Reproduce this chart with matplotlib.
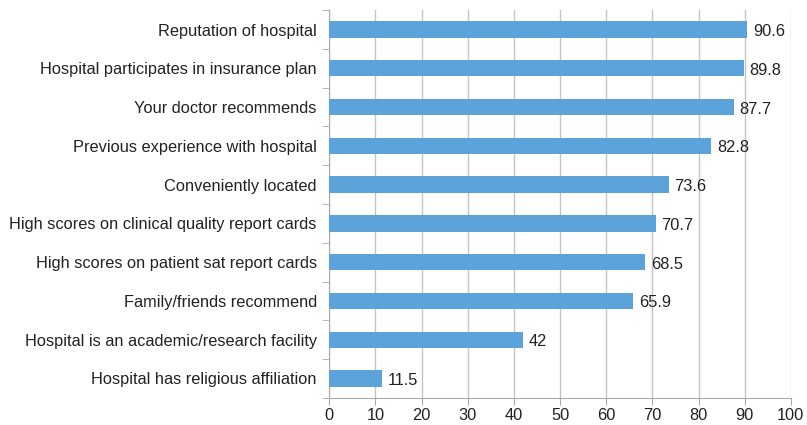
import numpy as np
import matplotlib.pyplot as plt

plt.rcParams['font.family'] = ['Liberation Sans', 'DejaVu Sans']

# Dados (de cima para baixo)
fatores = ["Reputation of hospital",
           "Hospital participates in insurance plan",
           "Your doctor recommends",
           "Previous experience with hospital",
           "Conveniently located",
           "High scores on clinical quality report cards",
           "High scores on patient sat report cards",
           "Family/friends recommend",
           "Hospital is an academic/research facility",
           "Hospital has religious affiliation"]
valores = [90.6, 89.8, 87.7, 82.8, 73.6, 70.7, 68.5, 65.9, 42, 11.5]
rotulos = ["90.6", "89.8", "87.7", "82.8", "73.6", "70.7", "68.5", "65.9", "42", "11.5"]
xticks = [0, 10, 20, 30, 40, 50, 60, 70, 80, 90, 100]

fig = plt.figure(figsize=(8.07, 4.25), dpi=100)
ax = fig.add_axes([0.408, 0.064, 0.572, 0.912])

y = np.arange(len(fatores))[::-1]
ax.barh(y, valores, height=0.42, color='#5BA3DA', zorder=3)

for yi, v, txt in zip(y, valores, rotulos):
    ax.text(v + 1.2, yi - 0.05, txt, va='center', ha='left', fontsize=11.8, color='#222222')

ax.set_xlim(0, 100)
ax.set_ylim(-0.5, len(fatores) - 0.5)
ax.set_xticks(xticks)
ax.set_yticks(y)
ax.set_yticklabels(fatores, fontsize=11.8, color='#222222')
ax.tick_params(axis='y', length=0, pad=9)
ax.set_yticks(np.arange(len(fatores) + 1) - 0.5, minor=True)
ax.tick_params(axis='y', which='minor', length=5, color='#AAAAAA', direction='out')
ax.tick_params(axis='x', length=5, color='#AAAAAA', labelsize=11.8, labelcolor='#222222', pad=2)

ax.grid(axis='x', color='#C4C4C4', linewidth=1, zorder=0)
for s in ['top', 'right']:
    ax.spines[s].set_visible(False)
for s in ['left', 'bottom']:
    ax.spines[s].set_color('#AAAAAA')

fig.savefig('out.png', dpi=100)
